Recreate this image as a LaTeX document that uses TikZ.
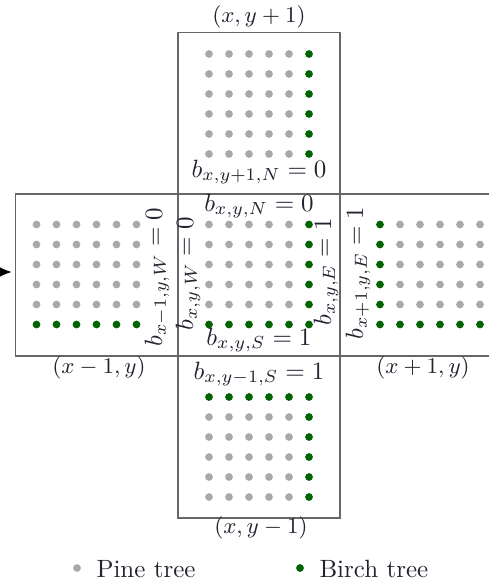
\documentclass[tikz,border=0pt]{standalone}
\usetikzlibrary{arrows.meta}
\definecolor{pinegray}{HTML}{A9A9A9}
\definecolor{birchgreen}{HTML}{006400}
\definecolor{boxline}{HTML}{666666}
\definecolor{txt}{HTML}{222230}
\begin{document}
\begin{tikzpicture}[x=0.4pt,y=-0.4pt,
  cell/.style={draw=boxline,line width=0.5pt,minimum width=64.8pt,minimum height=64.8pt,inner sep=0pt,outer sep=0pt},
  blabel/.style={text=txt,inner sep=0pt,font=\fontsize{10}{12}\selectfont},
  clabel/.style={text=txt,inner sep=0pt,font=\fontsize{8.6}{10}\selectfont},
  leg/.style={text=txt,inner sep=0pt,anchor=west,font=\fontsize{10}{12}\selectfont},
  pine/.style={fill=pinegray},
  birch/.style={fill=birchgreen}]
\useasboundingbox (0,0) rectangle (488,584);
\def\r{1.55pt}
% boxes
\node[cell] (T) at (259,113.5) {};
\node[cell] (C) at (259,275) {};
\node[cell] (L) at (96.5,275) {};
\node[cell] (R) at (421.5,275) {};
\node[cell] (B) at (259,437) {};
% arrow coming from the left
\coordinate (arrowstart) at (-40,272);
\draw[-{Latex[length=5pt,width=4.2pt]},line width=0.6pt] (arrowstart) -- (L.west |- arrowstart) [shorten >=1.5pt];
% top box dots
\foreach \i in {0,...,4} \foreach \j in {0,...,5} \fill[pine] ({209+20*\i},{54+20*\j}) circle (\r);
\foreach \j in {0,...,5} \fill[birch] (309,{54+20*\j}) circle (\r);
% centre box dots
\foreach \i in {0,...,4} \foreach \j in {0,...,4} \fill[pine] ({209+20*\i},{224.5+20*\j}) circle (\r);
\foreach \j in {0,...,4} \fill[birch] (309,{224.5+20*\j}) circle (\r);
\foreach \i in {0,...,5} \fill[birch] ({209+20*\i},324.5) circle (\r);
% left box dots
\foreach \i in {0,...,5} \foreach \j in {0,...,4} \fill[pine] ({36.5+20*\i},{224.5+20*\j}) circle (\r);
\foreach \i in {0,...,5} \fill[birch] ({36.5+20*\i},324.5) circle (\r);
% right box dots
\foreach \i in {1,...,5} \foreach \j in {0,...,4} \fill[pine] ({380+20*\i},{224.5+20*\j}) circle (\r);
\foreach \j in {0,...,4} \fill[birch] (380,{224.5+20*\j}) circle (\r);
\foreach \i in {0,...,5} \fill[birch] ({380+20*\i},324.5) circle (\r);
% bottom box dots
\foreach \i in {0,...,5} \fill[birch] ({209+20*\i},397) circle (\r);
\foreach \i in {0,...,4} \foreach \j in {1,...,5} \fill[pine] ({209+20*\i},{397+20*\j}) circle (\r);
\foreach \j in {1,...,5} \fill[birch] (309,{397+20*\j}) circle (\r);
% b labels
\node[blabel] (bT) at (259,172) {$b_{x,y+1,N}=0$};
\node[blabel] (bCN) at (259,206) {$b_{x,y,N}=0$};
\node[blabel] (bCS) at (259,340) {$b_{x,y,S}=1$};
\node[blabel,rotate=90] (bCW) at (188,274) {$b_{x,y,W}=0$};
\node[blabel,rotate=90] (bCE) at (326,272) {$b_{x,y,E}=1$};
\node[blabel,rotate=90] (bL) at (157,277) {$b_{x-1,y,W}=0$};
\node[blabel,rotate=90] (bR) at (358,273) {$b_{x+1,y,E}=1$};
\node[blabel] (bB) at (259,374) {$b_{x,y-1,S}=1$};
% coordinate labels
\node[clabel] (cT) at (259,17) {$(x,y+1)$};
\node[clabel] (cL) at (99,368) {$(x-1,y)$};
\node[clabel] (cR) at (423,368) {$(x+1,y)$};
\node[clabel] (cB) at (261,528) {$(x,y-1)$};
% legend
\fill[pine] (77,568) circle (\r);
\node[leg] (lp) at (96,569) {Pine tree};
\fill[birch] (300,568) circle (\r);
\node[leg] (lb) at (319,569) {Birch tree};
\end{tikzpicture}
\end{document}
